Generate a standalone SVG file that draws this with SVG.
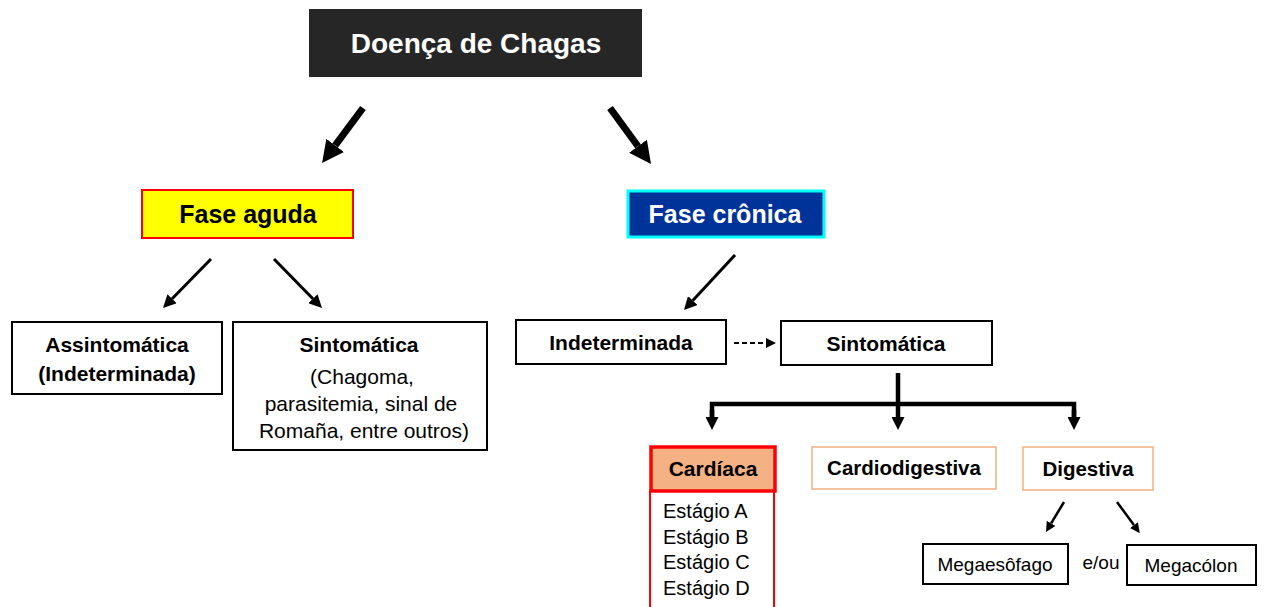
<svg xmlns="http://www.w3.org/2000/svg" width="1264" height="607" viewBox="0 0 1264 607">
<style>
text{font-family:"Liberation Sans",Arial,sans-serif;text-anchor:middle;fill:#000}
.b{font-weight:bold}
.box{fill:#fff;stroke:#000;stroke-width:2}
.obox{fill:#fff;stroke:#f4b183;stroke-width:1.5}
.ln{stroke:#000;fill:none}
</style>
<defs>
<marker id="hBig" viewBox="0 0 10 10" refX="0" refY="5" markerWidth="22" markerHeight="22" orient="auto" markerUnits="userSpaceOnUse"><path d="M0,0 L10,5 L0,10 z" fill="#000"/></marker>
<marker id="hMed" viewBox="0 0 10 10" refX="0" refY="5" markerWidth="13" markerHeight="13" orient="auto" markerUnits="userSpaceOnUse"><path d="M0,0 L10,5 L0,10 z" fill="#000"/></marker>
<marker id="hSm" viewBox="0 0 10 10" refX="0" refY="5" markerWidth="10" markerHeight="10" orient="auto" markerUnits="userSpaceOnUse"><path d="M0,0 L10,5 L0,10 z" fill="#000"/></marker>
</defs>

<g id="connectors">
<line class="ln" x1="363" y1="108" x2="335.2" y2="145.4" stroke-width="7" marker-end="url(#hBig)"/>
<line class="ln" x1="610" y1="108" x2="638" y2="146.2" stroke-width="7" marker-end="url(#hBig)"/>
<line class="ln" x1="211" y1="259" x2="172.1" y2="298.7" stroke-width="3" marker-end="url(#hMed)"/>
<line class="ln" x1="274" y1="259" x2="312.9" y2="298.7" stroke-width="3" marker-end="url(#hMed)"/>
<line class="ln" x1="735" y1="255" x2="692.8" y2="300.5" stroke-width="3" marker-end="url(#hMed)"/>
<line class="ln" x1="734" y1="343" x2="766" y2="343" stroke-width="2" stroke-dasharray="5,3" marker-end="url(#hSm)"/>
<line class="ln" x1="898" y1="373" x2="898" y2="417" stroke-width="4.5" marker-end="url(#hMed)"/>
<path class="ln" d="M712,417 V404 H1074 V417" stroke-width="4.5"/>
<line class="ln" x1="712" y1="410" x2="712" y2="417" stroke-width="4.5" marker-end="url(#hMed)"/>
<line class="ln" x1="1074" y1="410" x2="1074" y2="417" stroke-width="4.5" marker-end="url(#hMed)"/>
<line class="ln" x1="1064" y1="502" x2="1051.1" y2="523.4" stroke-width="2.5" marker-end="url(#hSm)"/>
<line class="ln" x1="1117" y1="502" x2="1133.9" y2="525.1" stroke-width="2.5" marker-end="url(#hSm)"/>
</g>

<g id="title">
<rect x="309" y="9" width="333" height="68" fill="#262626"/>
<text x="476" y="53" class="b" font-size="28" style="fill:#fff">Doença de Chagas</text>
</g>

<g id="fase-aguda">
<rect x="142" y="190" width="211" height="48" fill="#ffff00" stroke="#ff0000" stroke-width="2"/>
<text x="248" y="223" class="b" font-size="25">Fase aguda</text>
</g>

<g id="fase-cronica">
<rect x="628" y="191" width="196" height="46" fill="#003399" stroke="#00ffff" stroke-width="3"/>
<text x="725" y="223" class="b" font-size="25" style="fill:#fff">Fase crônica</text>
</g>

<g id="assintomatica">
<rect class="box" x="12" y="322" width="210" height="72"/>
<text x="117" y="352" class="b" font-size="21">Assintomática</text>
<text x="117" y="381" class="b" font-size="21">(Indeterminada)</text>
</g>

<g id="sintomatica-aguda">
<rect class="box" x="233" y="322" width="254" height="128"/>
<text x="359" y="352" class="b" font-size="21">Sintomática</text>
<text x="362" y="384" font-size="21">(Chagoma,</text>
<text x="361" y="411" font-size="21">parasitemia, sinal de</text>
<text x="364" y="438" font-size="21">Romaña, entre outros)</text>
</g>

<g id="indeterminada">
<rect class="box" x="516" y="320" width="210" height="44"/>
<text x="621" y="350" class="b" font-size="21">Indeterminada</text>
</g>

<g id="sintomatica-cronica">
<rect class="box" x="781" y="321" width="211" height="44"/>
<text x="886" y="351" class="b" font-size="21">Sintomática</text>
</g>

<g id="cardiaca">
<rect x="650" y="491" width="124" height="130" fill="#fff" stroke="#ff0000" stroke-width="2"/>
<rect x="651" y="447" width="124" height="44" fill="#f4b183" stroke="#ff0000" stroke-width="3.5"/>
<text x="713" y="476" class="b" font-size="21">Cardíaca</text>
<text x="663" y="518" font-size="20" style="text-anchor:start">Estágio A</text>
<text x="663" y="544" font-size="20" style="text-anchor:start">Estágio B</text>
<text x="663" y="569" font-size="20" style="text-anchor:start">Estágio C</text>
<text x="663" y="595" font-size="20" style="text-anchor:start">Estágio D</text>
</g>

<g id="cardiodigestiva">
<rect class="obox" x="812" y="447" width="184" height="42"/>
<text x="904" y="475" class="b" font-size="20.5">Cardiodigestiva</text>
</g>

<g id="digestiva">
<rect class="obox" x="1023" y="447" width="130" height="43"/>
<text x="1088" y="476" class="b" font-size="20.5">Digestiva</text>
</g>

<g id="megaesofago">
<rect class="box" x="923" y="544" width="145" height="40"/>
<text x="995" y="571" font-size="19">Megaesôfago</text>
</g>

<g id="eou">
<text x="1101" y="569" font-size="19">e/ou</text>
</g>

<g id="megacolon">
<rect class="box" x="1127" y="545" width="129" height="40"/>
<text x="1191" y="572" font-size="19">Megacólon</text>
</g>
</svg>
